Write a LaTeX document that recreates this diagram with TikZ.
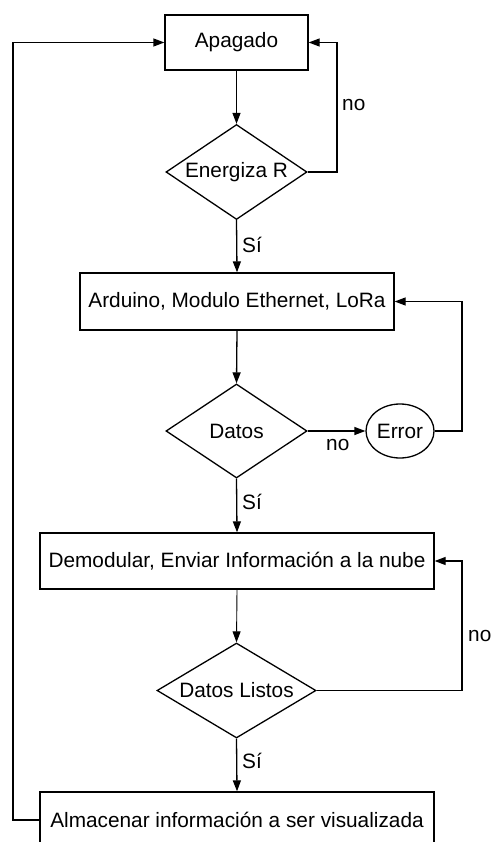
\documentclass[tikz,border=0pt]{standalone}
\usepackage{fontspec}
\setmainfont{Liberation Sans}
\usetikzlibrary{shapes.geometric,arrows.meta}
\tikzset{
  every node/.style={font=\fontsize{20.8}{25}\selectfont},
  box/.style={draw, rectangle, line width=1.3pt, inner sep=0pt},
  dec/.style={draw, diamond, line width=1.3pt, inner sep=0pt},
  term/.style={draw, ellipse, line width=1.3pt, inner sep=0pt},
  conn/.style={line width=1.3pt, -{Triangle[length=11pt,width=8pt]}},
  thin conn/.style={line width=0.9pt, -{Triangle[length=11pt,width=8pt]}},
  lbl/.style={inner sep=0pt}
}
\begin{document}
\begin{tikzpicture}[x=1pt,y=-1pt]
\useasboundingbox (0,0) rectangle (491,842);
\clip (0,0) rectangle (491,842);
\node[box, minimum width=143pt, minimum height=55pt] (apag) at (236.5,42.5) {Apagado};
\node[dec, aspect=1.48, minimum width=141pt, minimum height=95pt] (ener) at (236.5,172) {Energiza R};
\node[box, minimum width=314pt, minimum height=57pt] (ard) at (237,301.5) {Arduino, Modulo Ethernet, LoRa};
\node[dec, aspect=1.5, minimum width=141pt, minimum height=94pt] (datos) at (236.5,431) {Datos};
\node[term, minimum width=68pt, minimum height=54pt] (err) at (400,431) {Error};
\node[box, minimum width=394pt, minimum height=56pt] (demo) at (237,561) {Demodular, Enviar Información a la nube};
\node[dec, aspect=1.67, minimum width=159pt, minimum height=95pt] (dl) at (236.5,690.5) {Datos Listos};
\node[box, minimum width=394pt, minimum height=56pt] (alm) at (237,820) {Almacenar información a ser visualizada};

\coordinate (c1) at (337,172);
\coordinate (c2) at (337,42.5);
\coordinate (c3) at (462,431);
\coordinate (c4) at (462,301.5);
\coordinate (c5) at (462,690.5);
\coordinate (c6) at (462,561);
\coordinate (c7) at (13,820);
\coordinate (c8) at (13,42.5);

\draw[conn] (apag.south) -- (ener.north);
\draw[conn] (ener.east) -- (c1) -- (c2) -- (apag.east);
\draw[conn] (ener.south) -- (ard.north);
\draw[conn] (ard.south) -- (datos.north);
\draw[conn] (datos.east) -- (err.west);
\draw[conn] (err.east) -- (c3) -- (c4) -- (ard.east);
\draw[conn] (datos.south) -- (demo.north);
\draw[thin conn] (demo.south) -- (dl.north);
\draw[conn] (dl.east) -- (c5) -- (c6) -- (demo.east);
\draw[conn] (dl.south) -- (alm.north);
\draw[conn] (alm.west) -- (c7) -- (c8) -- (apag.west);

\node[lbl, anchor=west] (l1) at (342,105) {no};
\node[lbl, anchor=west] (l2) at (242,245) {Sí};
\node[lbl, anchor=west] (l3) at (326,445) {no};
\node[lbl, anchor=west] (l4) at (242,502) {Sí};
\node[lbl, anchor=west] (l5) at (468,636) {no};
\node[lbl, anchor=west] (l6) at (242,761) {Sí};
\end{tikzpicture}
\end{document}
